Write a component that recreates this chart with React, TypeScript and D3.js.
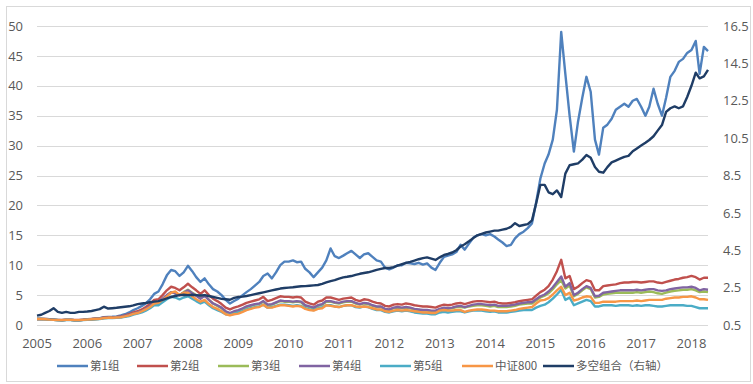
import React from "react"
import * as d3 from "d3"

// monthly observations, Jan 2005 .. May 2018
const g1 = [
  1.0, 1.0, 1.02, 0.95, 0.88, 0.85, 0.8, 0.85, 0.85, 0.8, 0.8, 0.85,
  0.95, 1.0, 1.08, 1.15, 1.3, 1.35, 1.38, 1.45, 1.6, 1.8, 2.1, 2.5,
  2.8, 3.2, 3.6, 4.3, 5.2, 5.6, 6.8, 8.3, 9.2, 9.0, 8.2, 8.8,
  9.9, 9.0, 8.0, 7.2, 7.8, 6.8, 6.0, 5.6, 5.0, 4.2, 3.6, 4.0,
  4.4, 5.0, 5.5, 6.0, 6.6, 7.2, 8.2, 8.6, 7.8, 8.8, 10.0, 10.6,
  10.6, 10.8, 10.5, 10.6, 9.4, 8.8, 8.0, 8.8, 9.6, 10.8, 12.8, 11.5,
  11.2, 11.6, 12.0, 12.4, 11.8, 11.2, 11.8, 12.0, 11.4, 10.8, 10.6, 9.6,
  9.3, 9.6, 10.0, 10.0, 10.4, 10.3, 10.2, 10.4, 10.1, 10.3, 9.6, 9.2,
  10.4, 11.4, 11.6, 11.8, 12.2, 13.4, 12.6, 13.6, 14.6, 15.0, 15.2, 15.0,
  15.2, 14.8, 14.3, 13.8, 13.2, 13.4, 14.5, 15.2, 15.6, 16.2, 17.0, 20.5,
  24.5, 27.0, 28.5, 31.0, 36.0, 49.0, 42.0, 35.0, 29.0, 34.0, 38.0, 41.5,
  39.0, 31.0, 28.5, 33.0, 33.5, 34.5, 36.0, 36.5, 37.0, 36.5, 37.5, 37.8,
  36.5, 35.0, 36.5, 39.5, 37.0, 35.0, 38.0, 41.5, 42.5, 44.0, 44.5, 45.5,
  46.0, 47.5, 42.0, 46.5, 45.8,
]
const g2 = [
  1.0, 1.0, 1.0, 0.95, 0.9, 0.85, 0.85, 0.9, 0.9, 0.85, 0.85, 0.9,
  0.95, 1.0, 1.05, 1.1, 1.25, 1.3, 1.3, 1.35, 1.45, 1.6, 1.8, 2.1,
  2.3, 2.6, 3.0, 3.5, 4.2, 4.3, 5.0, 5.8, 6.4, 6.2, 5.8, 6.3,
  6.9, 6.3, 5.8, 5.2, 5.8, 5.0, 4.4, 4.0, 3.5, 2.9, 2.6, 2.9,
  3.1, 3.4, 3.7, 3.9, 4.1, 4.3, 4.7, 4.0, 4.2, 4.5, 4.8, 4.7,
  4.7, 4.6, 4.7, 4.6, 3.9, 3.6, 3.4, 3.9, 4.1, 4.6, 4.6, 4.4,
  4.2, 4.4, 4.5, 4.6, 4.2, 4.0, 4.3, 4.2, 3.9, 3.7, 3.6, 3.2,
  3.1, 3.4, 3.5, 3.4, 3.6, 3.5, 3.3, 3.2, 3.1, 3.1, 3.0, 2.9,
  3.2, 3.4, 3.3, 3.4, 3.6, 3.7, 3.5, 3.7, 3.9, 4.0, 4.0, 3.9,
  3.8, 3.9, 3.7, 3.6, 3.6, 3.7, 3.8, 4.0, 4.1, 4.2, 4.3, 4.9,
  5.5, 5.9, 6.5, 7.6, 9.0, 10.9, 7.8, 8.2, 6.0, 6.4, 7.0, 7.5,
  7.3, 5.8, 5.8, 6.5, 6.6, 6.7, 6.8, 7.0, 7.1, 7.1, 7.2, 7.2,
  7.1, 7.2, 7.3, 7.3, 7.1, 7.0, 7.2, 7.4, 7.6, 7.7, 7.9, 8.0,
  8.2, 8.0, 7.6, 7.9, 7.9,
]
const g3 = [
  1.0, 1.0, 0.98, 0.92, 0.88, 0.83, 0.8, 0.85, 0.85, 0.8, 0.8, 0.85,
  0.9, 0.95, 1.0, 1.05, 1.18, 1.2, 1.2, 1.25, 1.32, 1.45, 1.6, 1.85,
  2.05, 2.3, 2.65, 3.1, 3.7, 3.7, 4.3, 4.9, 5.5, 5.3, 5.0, 5.5,
  5.9, 5.4, 5.0, 4.5, 5.0, 4.2, 3.6, 3.2, 2.8, 2.2, 1.9, 2.2,
  2.4, 2.7, 3.0, 3.2, 3.4, 3.5, 3.9, 3.3, 3.4, 3.7, 4.0, 3.9,
  3.9, 3.8, 3.9, 3.8, 3.2, 3.0, 2.8, 3.2, 3.4, 3.9, 3.9, 3.7,
  3.6, 3.8, 3.9, 3.9, 3.6, 3.4, 3.6, 3.5, 3.2, 3.0, 3.0, 2.6,
  2.5, 2.8, 2.9, 2.8, 2.9, 2.8, 2.6, 2.5, 2.4, 2.4, 2.3, 2.3,
  2.6, 2.8, 2.7, 2.8, 3.0, 3.0, 2.9, 3.1, 3.2, 3.3, 3.3, 3.2,
  3.1, 3.2, 3.0, 3.0, 3.0, 3.1, 3.2, 3.4, 3.5, 3.6, 3.6, 4.1,
  4.6, 4.9, 5.3, 6.0, 6.8, 7.5, 6.1, 6.6, 4.8, 5.2, 5.8, 6.3,
  6.0, 4.6, 4.7, 5.1, 5.2, 5.3, 5.4, 5.4, 5.4, 5.4, 5.4, 5.5,
  5.4, 5.5, 5.6, 5.5, 5.3, 5.2, 5.4, 5.6, 5.7, 5.8, 5.9, 5.9,
  6.0, 5.8, 5.5, 5.6, 5.5,
]
const g4 = [
  1.0, 1.0, 0.98, 0.92, 0.88, 0.82, 0.8, 0.85, 0.85, 0.8, 0.8, 0.85,
  0.9, 0.95, 1.0, 1.05, 1.2, 1.22, 1.22, 1.28, 1.35, 1.5, 1.65, 1.9,
  2.1, 2.35, 2.7, 3.2, 3.8, 3.8, 4.4, 5.0, 5.5, 5.3, 5.0, 5.4,
  5.8, 5.3, 4.9, 4.4, 4.9, 4.2, 3.6, 3.3, 2.9, 2.3, 2.0, 2.3,
  2.5, 2.8, 3.1, 3.3, 3.5, 3.6, 4.0, 3.4, 3.5, 3.8, 4.1, 4.0,
  4.0, 3.9, 4.0, 3.9, 3.3, 3.1, 2.9, 3.3, 3.5, 4.0, 4.0, 3.8,
  3.7, 3.9, 4.0, 4.0, 3.7, 3.5, 3.7, 3.6, 3.3, 3.1, 3.1, 2.7,
  2.6, 2.9, 3.0, 2.9, 3.0, 2.9, 2.7, 2.6, 2.5, 2.5, 2.4, 2.4,
  2.7, 2.9, 2.8, 2.9, 3.1, 3.2, 3.0, 3.2, 3.4, 3.5, 3.5, 3.4,
  3.3, 3.4, 3.2, 3.2, 3.2, 3.3, 3.4, 3.6, 3.7, 3.8, 3.8, 4.3,
  4.8, 5.1, 5.6, 6.3, 7.2, 8.1, 6.4, 7.0, 5.0, 5.4, 6.0, 6.5,
  6.2, 4.8, 4.9, 5.4, 5.5, 5.6, 5.7, 5.8, 5.8, 5.8, 5.8, 5.9,
  5.8, 5.9, 6.0, 6.0, 5.8, 5.7, 5.8, 6.0, 6.1, 6.2, 6.3, 6.3,
  6.4, 6.2, 5.8, 6.0, 5.9,
]
const g5 = [
  1.0, 1.0, 0.97, 0.9, 0.85, 0.8, 0.8, 0.83, 0.83, 0.8, 0.8, 0.82,
  0.88, 0.92, 0.97, 1.0, 1.1, 1.15, 1.15, 1.2, 1.25, 1.35, 1.5, 1.75,
  1.9, 2.1, 2.4, 2.8, 3.3, 3.3, 3.8, 4.3, 4.7, 4.6, 4.3, 4.6,
  4.8, 4.4, 4.0, 3.6, 3.9, 3.3, 2.8, 2.5, 2.2, 1.8, 1.7, 1.9,
  2.1, 2.3, 2.6, 2.8, 3.0, 3.1, 3.4, 2.9, 3.0, 3.2, 3.4, 3.4,
  3.3, 3.2, 3.3, 3.2, 2.8, 2.6, 2.5, 2.8, 3.0, 3.3, 3.3, 3.1,
  3.0, 3.2, 3.3, 3.3, 3.0, 2.9, 3.1, 3.0, 2.7, 2.5, 2.5, 2.2,
  2.1, 2.3, 2.4, 2.3, 2.4, 2.3, 2.1, 2.0, 1.9, 1.9, 1.8, 1.8,
  2.1, 2.2, 2.1, 2.2, 2.3, 2.3, 2.1, 2.3, 2.4, 2.4, 2.4, 2.3,
  2.2, 2.3, 2.1, 2.1, 2.1, 2.2, 2.3, 2.4, 2.5, 2.5, 2.5, 2.9,
  3.2, 3.4, 3.8, 4.4, 5.1, 5.9, 4.2, 4.6, 3.3, 3.6, 3.9, 4.2,
  4.0, 3.1, 3.1, 3.3, 3.3, 3.3, 3.2, 3.3, 3.3, 3.3, 3.2, 3.3,
  3.2, 3.3, 3.3, 3.2, 3.1, 3.1, 3.2, 3.3, 3.3, 3.3, 3.3, 3.2,
  3.2, 3.0, 2.8, 2.8, 2.8,
]
const csi800 = [
  1.0, 1.0, 0.97, 0.9, 0.85, 0.82, 0.82, 0.85, 0.85, 0.82, 0.82, 0.85,
  0.9, 0.95, 1.0, 1.05, 1.15, 1.2, 1.2, 1.25, 1.3, 1.45, 1.6, 1.85,
  2.0, 2.3, 2.6, 3.0, 3.6, 3.7, 4.2, 4.8, 5.4, 5.6, 5.0, 5.4,
  5.4, 4.8, 4.3, 3.9, 4.2, 3.5, 3.0, 2.7, 2.3, 1.8, 1.6, 1.8,
  1.9, 2.2, 2.5, 2.7, 2.9, 3.0, 3.4, 2.9, 2.9, 3.1, 3.3, 3.3,
  3.2, 3.1, 3.2, 3.1, 2.7, 2.5, 2.4, 2.7, 2.8, 3.3, 3.2, 3.1,
  3.0, 3.2, 3.3, 3.3, 3.1, 3.0, 3.1, 3.0, 2.8, 2.6, 2.6, 2.3,
  2.2, 2.4, 2.5, 2.4, 2.5, 2.4, 2.3, 2.2, 2.1, 2.1, 2.0, 2.0,
  2.4, 2.5, 2.4, 2.4, 2.5, 2.5, 2.2, 2.4, 2.5, 2.6, 2.6, 2.5,
  2.4, 2.4, 2.3, 2.3, 2.3, 2.4, 2.5, 2.7, 2.8, 2.9, 3.0, 3.6,
  4.1, 4.2, 4.5, 5.1, 5.8, 6.4, 5.0, 5.4, 4.1, 4.3, 4.6, 4.8,
  4.7, 3.7, 3.7, 3.9, 3.9, 3.9, 3.9, 4.0, 4.0, 4.0, 4.0, 4.1,
  4.0, 4.1, 4.2, 4.2, 4.2, 4.2, 4.4, 4.5, 4.6, 4.6, 4.7, 4.7,
  4.8, 4.6, 4.3, 4.3, 4.2,
]
// long-short portfolio, right axis
const longShort = [
  1.0, 1.05, 1.15, 1.25, 1.4, 1.2, 1.15, 1.2, 1.15, 1.15, 1.2, 1.2,
  1.22, 1.25, 1.3, 1.35, 1.48, 1.38, 1.4, 1.42, 1.45, 1.48, 1.5, 1.55,
  1.62, 1.65, 1.68, 1.72, 1.75, 1.78, 1.85, 1.92, 2.0, 2.05, 2.1, 2.12,
  2.1, 2.12, 2.1, 2.08, 2.1, 2.05, 2.0, 1.95, 1.9, 1.88, 1.85, 1.95,
  2.0, 2.02, 2.05, 2.1, 2.15, 2.2, 2.25, 2.3, 2.35, 2.4, 2.45, 2.48,
  2.5, 2.52, 2.55, 2.57, 2.58, 2.6, 2.62, 2.64, 2.7, 2.78, 2.85, 2.9,
  2.98, 3.05, 3.08, 3.12, 3.18, 3.24, 3.28, 3.32, 3.38, 3.45, 3.5, 3.55,
  3.55, 3.6, 3.68, 3.75, 3.82, 3.88, 3.95, 4.02, 4.08, 4.12, 4.05, 3.98,
  4.12, 4.25, 4.3, 4.38, 4.5, 4.7, 4.82, 4.98, 5.15, 5.3, 5.38, 5.45,
  5.5, 5.55, 5.55, 5.6, 5.65, 5.75, 5.95, 5.8, 5.85, 5.9, 6.1, 7.0,
  8.0, 8.0, 7.6, 7.5, 7.7, 7.35, 8.6, 9.05, 9.1, 9.15, 9.35, 9.6,
  9.45, 8.95, 8.7, 8.65, 8.95, 9.2, 9.3, 9.4, 9.5, 9.55, 9.8, 9.95,
  10.1, 10.25, 10.4, 10.6, 10.9, 11.2, 11.9, 12.1, 12.2, 12.1, 12.2, 12.7,
  13.3, 14.0, 13.7, 13.8, 14.15,
]

const seriesNames = ["第1组", "第2组", "第3组", "第4组", "第5组", "中证800", "多空组合（右轴）"]
const seriesColors = ["#4F81BD", "#C0504D", "#9BBB59", "#8064A2", "#4BACC6", "#F79646", "#1F3D66"]
const leftTicks = [0, 5, 10, 15, 20, 25, 30, 35, 40, 45, 50]
const rightTicks = [0.5, 2.5, 4.5, 6.5, 8.5, 10.5, 12.5, 14.5, 16.5]
const yearTicks = d3.range(2005, 2019)

const months = d3.timeMonths(new Date(2005, 0, 1), new Date(2018, 5, 1))
const legendX = [57, 137, 218, 299, 380, 462, 543]

export default function App() {
  const width = 753
  const height = 384
  const plot = { left: 37, right: 708, top: 26, bottom: 325 }

  const x = d3
    .scaleTime()
    .domain([new Date(2005, 0, 1), new Date(2018, 4, 1)])
    .range([plot.left, plot.right])
  const yL = d3.scaleLinear().domain([0, 50]).range([plot.bottom, plot.top])
  const yR = d3.scaleLinear().domain([0.5, 16.5]).range([plot.bottom, plot.top])

  const all = [g1, g2, g3, g4, g5, csi800, longShort]
  const lines = all.map((vals, i) => {
    const y = i === 6 ? yR : yL
    return d3
      .line<number>()
      .x((_, j) => x(months[j]))
      .y((v) => y(v))(vals)
  })

  const tickColor = "#595959"
  const font = "'Open Sans', 'Noto Sans CJK SC', sans-serif"

  return (
    <svg
      width={width}
      height={height}
      style={{ position: "absolute", left: 0, top: 0, background: "#fff" }}
      fontFamily={font}
    >
      <rect x={6.5} y={6.5} width={744} height={375} fill="#fff" stroke="#D9D9D9" />

      {leftTicks.map((t) => (
        <line
          key={t}
          x1={plot.left}
          x2={plot.right}
          y1={Math.round(yL(t)) + 0.5}
          y2={Math.round(yL(t)) + 0.5}
          stroke="#D9D9D9"
          strokeWidth={1.2}
        />
      ))}

      {leftTicks.map((t) => (
        <text key={t} x={23} y={yL(t)} dy="0.36em" textAnchor="end" fontSize={13} fill={tickColor}>
          {t}
        </text>
      ))}
      {rightTicks.map((t) => (
        <text key={t} x={723} y={yR(t)} dy="0.36em" textAnchor="start" fontSize={13} fill={tickColor}>
          {t.toFixed(1)}
        </text>
      ))}
      {yearTicks.map((yr) => (
        <text
          key={yr}
          x={x(new Date(yr, 0, 1))}
          y={348}
          textAnchor="middle"
          fontSize={13}
          fill={tickColor}
        >
          {yr}
        </text>
      ))}

      {lines.map((d, i) => (
        <path
          key={i}
          d={d || ""}
          fill="none"
          stroke={seriesColors[i]}
          strokeWidth={2.4}
          strokeLinejoin="round"
        />
      ))}

      {seriesNames.map((name, i) => (
        <g key={name} transform={`translate(${legendX[i]},366)`}>
          <line x1={0} x2={31} y1={0} y2={0} stroke={seriesColors[i]} strokeWidth={2.5} />
          <text
            x={33}
            y={0}
            dy="0.36em"
            fontSize={11.5}
            fill={tickColor}
            fontFamily="'Noto Sans CJK SC', sans-serif"
          >
            {name}
          </text>
        </g>
      ))}
    </svg>
  )
}
